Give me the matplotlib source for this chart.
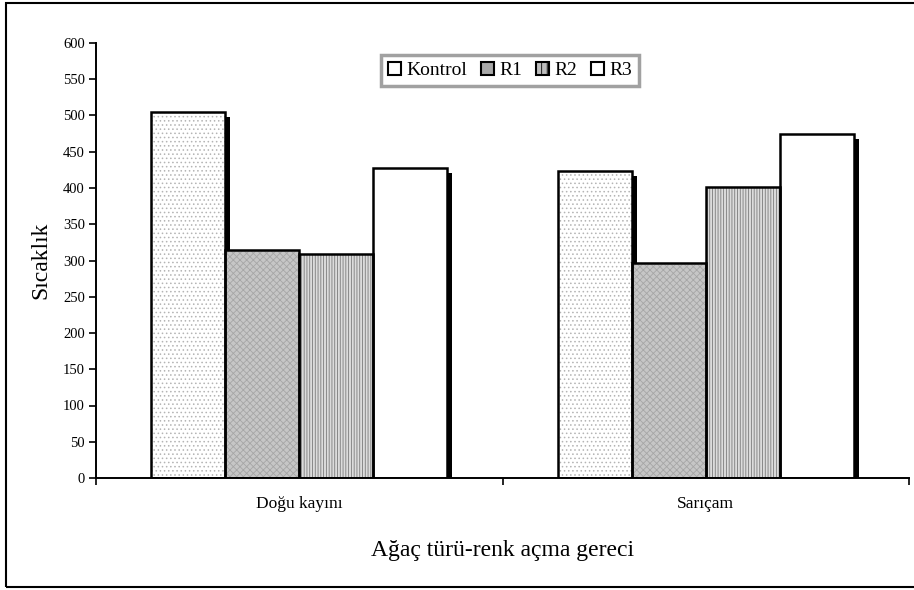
import matplotlib
matplotlib.use("Agg")
import matplotlib.pyplot as plt
import matplotlib.transforms as mtransforms
from matplotlib.patches import Patch, Rectangle
import numpy as np

plt.rcParams["font.family"] = ["Liberation Serif", "DejaVu Serif"]
plt.rcParams["hatch.linewidth"] = 0.6

categories = ["Doğu kayını", "Sarıçam"]
series = ["Kontrol", "R1", "R2", "R3"]
kontrol = [505, 424]
r1 = [314, 296]
r2 = [309, 402]
r3 = [428, 475]
values = [kontrol, r1, r2, r3]

# face, hatch, hatch colour per series
styles = [
    ("white", "....", "#b4b4b4"),
    ("#c6c6c6", "xxxxx", "#a6a6a6"),
    ("#dcdcdc", "||||||", "#7a7a7a"),
    ("white", "", "white"),
]

fig = plt.figure(figsize=(9.14, 5.90), dpi=100)
ax = fig.add_axes([96 / 914, 1 - 478 / 590, 813 / 914, 435 / 590])

x = np.arange(len(categories))
w = 0.182
offsets = (np.arange(len(series)) - 1.5) * w

# drop shadows first
shadow = mtransforms.offset_copy(ax.transData, fig=fig, x=5, y=-5, units="dots")
for off, vals in zip(offsets, values):
    ax.bar(x + off, vals, w, color="black", linewidth=0, transform=shadow, zorder=1)

for off, vals, (fc, hatch, hc) in zip(offsets, values, styles):
    ax.bar(x + off, vals, w, color=fc, edgecolor=hc, hatch=hatch, linewidth=0, zorder=2)
    ax.bar(x + off, vals, w, fill=False, edgecolor="black", linewidth=1.8, zorder=3)

ax.set_xlim(-0.5, 1.5)
ax.set_ylim(0, 600)
ax.set_yticks(np.arange(0, 601, 50))
ax.tick_params(axis="y", direction="out", length=5, width=1.2, labelsize=10.5, pad=3)

ax.set_xticks([-0.5, 0.5, 1.5])
ax.set_xticklabels([])
ax.set_xticks(x, minor=True)
ax.set_xticklabels(categories, minor=True, fontsize=12.5)
ax.tick_params(axis="x", which="major", direction="out", length=5, width=1.2)
ax.tick_params(axis="x", which="minor", length=0, pad=13)

for s in ["top", "right"]:
    ax.spines[s].set_visible(False)
for s in ["left", "bottom"]:
    ax.spines[s].set_linewidth(1.4)

ax.set_ylabel("Sıcaklık", fontsize=17, labelpad=8)
ax.set_xlabel("Ağaç türü-renk açma gereci", fontsize=17, labelpad=20)

handles = [
    Patch(facecolor="white", edgecolor="black", linewidth=1.5),
    Patch(facecolor="#a8a8a8", edgecolor="black", linewidth=1.5),
    Patch(facecolor="#bdbdbd", edgecolor="black", hatch="|||", linewidth=1.5),
    Patch(facecolor="white", edgecolor="black", linewidth=1.5),
]
leg = ax.legend(handles, series, loc="upper left", bbox_to_anchor=(285 / 813, 1 - 12 / 435),
                ncol=4, fontsize=14, frameon=True, fancybox=False,
                handlelength=0.7, handleheight=0.7, handletextpad=0.25,
                columnspacing=0.7, borderpad=0.35, borderaxespad=0)
leg.get_frame().set_edgecolor("#8a8a8a")
leg.get_frame().set_linewidth(2.5)

# outer chart-area border
fig.add_artist(Rectangle((6 / 914, 3 / 590), 1.2, 584 / 590, transform=fig.transFigure,
                         fill=False, edgecolor="black", linewidth=1.5))

fig.savefig("out.png", dpi=100)
